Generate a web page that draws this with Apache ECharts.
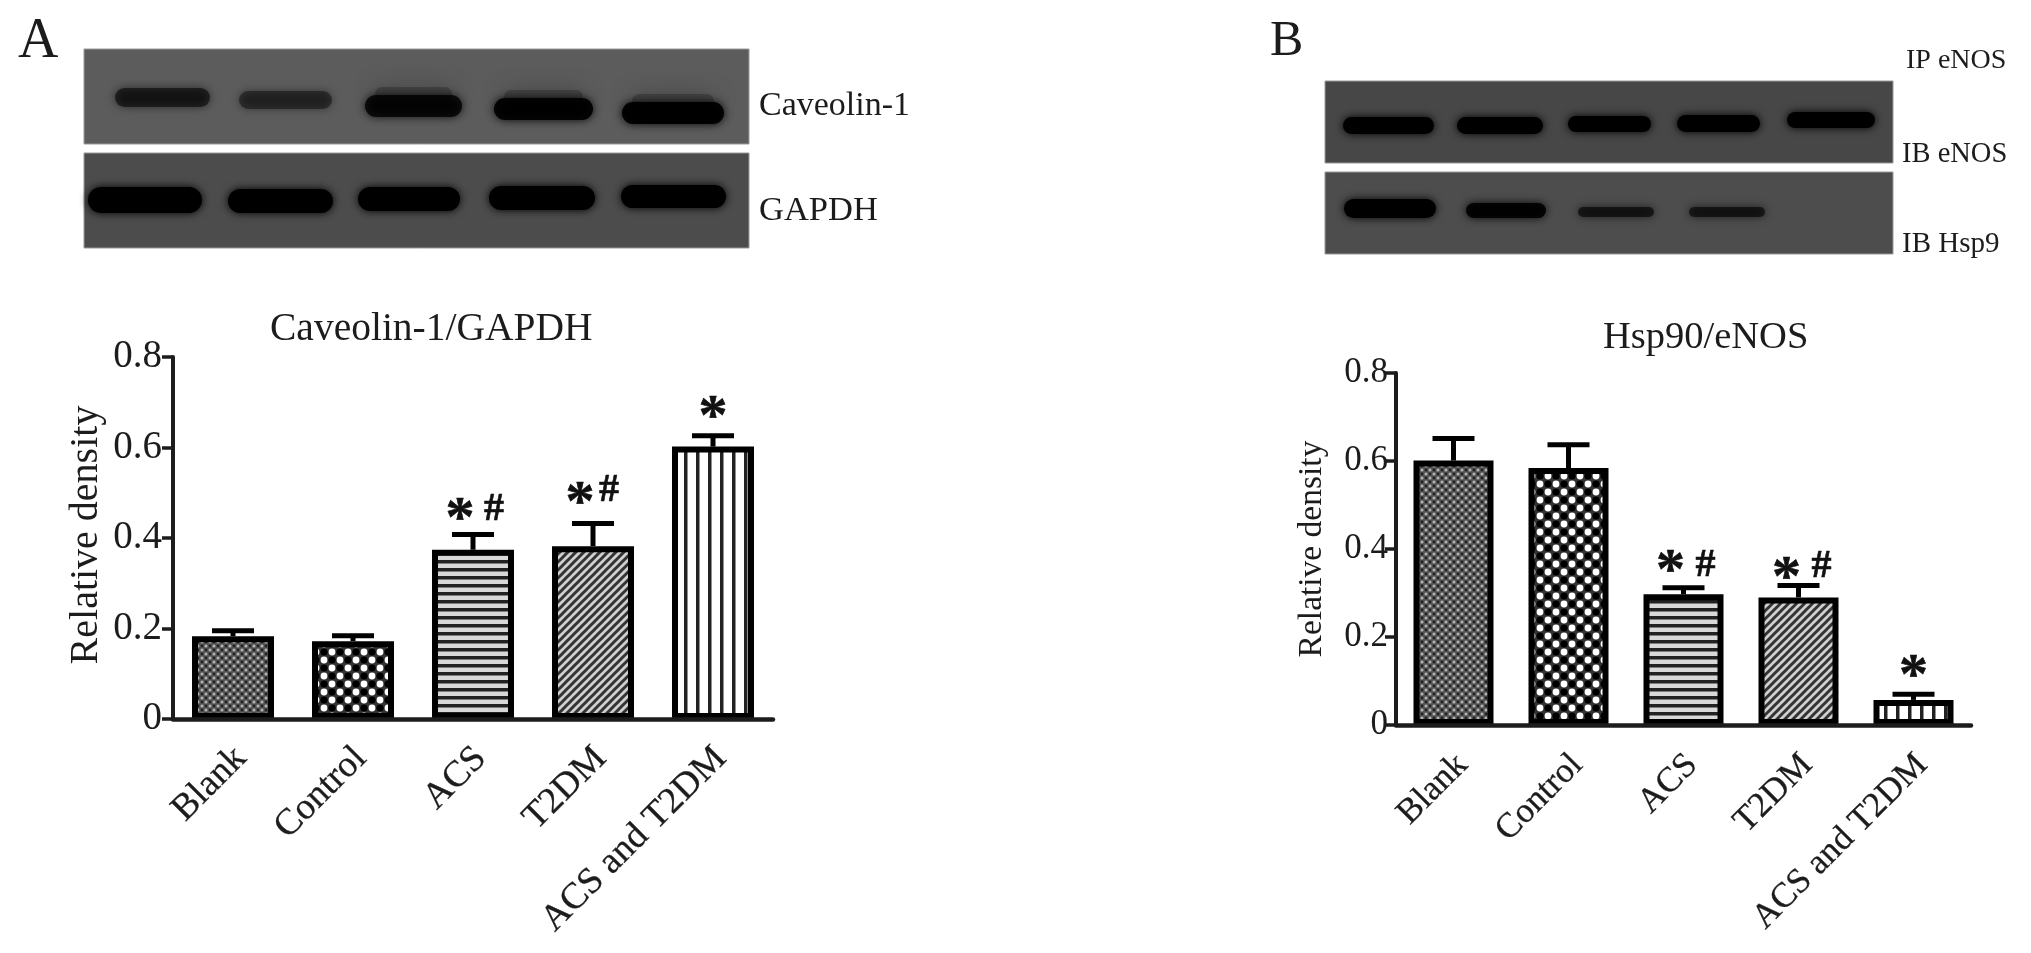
<!DOCTYPE html>
<html><head><meta charset="utf-8">
<style>html,body{margin:0;padding:0;background:#fff}#c{width:2031px;height:953px;filter:blur(0.7px)}</style>
<script src="https://cdn.jsdelivr.net/npm/echarts@6/dist/echarts.min.js"></script>
</head><body><div id="c"></div>
<script>
const categories = ['Blank','Control','ACS','T2DM','ACS and T2DM'];
const yTicks = [0,0.2,0.4,0.6,0.8];

const caveolinMean  = [0.183,0.172,0.374,0.382,0.602];
const caveolinUpper = [0.195,0.184,0.408,0.432,0.626];
const caveolinStar  = ['','','*','*','*'];
const caveolinHash  = ['','','#','#',''];

const hspMean  = [0.601,0.584,0.297,0.290,0.057];
const hspUpper = [0.651,0.637,0.312,0.317,0.070];
const hspStar  = ['','','*','*','*'];
const hspHash  = ['','','#','#',''];

const titleA = 'Caveolin-1/GAPDH';
const titleB = 'Hsp90/eNOS';
const yName = 'Relative density';

// relative darkness of the blot bands
const caveolinBand = [0.55,0.42,0.8,0.9,0.95];
const gapdhBand    = [1,1,1,1,1];
const enosBand     = [1,1,1,1,1];
const hspBand      = [1,0.9,0.6,0.6,0];

const FONT = '"Liberation Serif","Times New Roman",serif';
const INK = '#1c1c1c';

function tile(w,h,draw){const c=document.createElement('canvas');c.width=w;c.height=h;draw(c.getContext('2d'));return {image:c,repeat:'repeat'};}
function dot(g,x,y,r,col){g.fillStyle=col;g.beginPath();g.arc(x,y,r,0,Math.PI*2);g.fill();}
const patterns = [
  tile(8,8,g=>{g.fillStyle='#555';g.fillRect(0,0,8,8);dot(g,2,2,1.5,'#b4b4b4');dot(g,6,6,1.5,'#b4b4b4');dot(g,6,2,1.4,'#222');dot(g,2,6,1.4,'#222');}),
  tile(16,16,g=>{g.fillStyle='#333';g.fillRect(0,0,16,16);dot(g,4,4,3.4,'#fff');dot(g,12,12,3.4,'#fff');dot(g,12,4,3.6,'#000');dot(g,4,12,3.6,'#000');}),
  tile(8,8,g=>{g.fillStyle='#d8d8d8';g.fillRect(0,0,8,8);g.fillStyle='#222';g.fillRect(0,0,8,3.5);}),
  tile(8,8,g=>{g.fillStyle='#d0d0d0';g.fillRect(0,0,8,8);g.strokeStyle='#333';g.lineWidth=3;[[-2,2,2,-2],[0,8,8,0],[6,10,10,6]].forEach(l=>{g.beginPath();g.moveTo(l[0],l[1]);g.lineTo(l[2],l[3]);g.stroke();});}),
  tile(12,12,g=>{g.fillStyle='#fff';g.fillRect(0,0,12,12);g.fillStyle='#222';g.fillRect(0,0,3.5,12);})
];

function grid(left,top,width,height){return {left,top,width,height,containLabel:false};}
function xAxis(i,fs,margin,lh){return {type:'category',gridIndex:i,data:categories,
  axisLine:{lineStyle:{color:INK,width:4.5}},axisTick:{alignWithLabel:true,length:12,lineStyle:{color:INK,width:3.5}},
  axisLabel:{interval:0,rotate:45,fontFamily:FONT,fontSize:fs,color:INK,margin,verticalAlign:'top',lineHeight:lh,textBorderColor:INK,textBorderWidth:0.3},z:5};}
function yAxis(i,fs,nfs,gap,m,pad){return {type:'value',gridIndex:i,min:0,max:0.8,interval:0.2,name:yName,nameLocation:'middle',nameGap:gap,
  nameTextStyle:{fontFamily:FONT,fontSize:nfs,color:INK,padding:[0,0,0,pad]},splitLine:{show:false},
  axisLine:{show:true,lineStyle:{color:INK,width:4}},axisTick:{show:true,length:11,lineStyle:{color:INK,width:3.5}},
  axisLabel:{fontFamily:FONT,fontSize:fs,color:INK,margin:m,formatter:v=>yTicks.includes(v)?String(v):''},z:5};}
function bars(i,vals,w){return {type:'bar',xAxisIndex:i,yAxisIndex:i,barWidth:w,z:2,
  data:vals.map((v,k)=>({value:v,itemStyle:{color:patterns[k],borderColor:'#000',borderWidth:6}}))};}
function errs(i,upper){return {type:'custom',xAxisIndex:i,yAxisIndex:i,z:3,silent:true,encode:{x:0,y:[1,2]},
  data:upper.map((u,k)=>[k,(i==0?caveolinMean:hspMean)[k],u]),
  renderItem(p,api){const a=api.coord([api.value(0),api.value(1)]),b=api.coord([api.value(0),api.value(2)]);
    const s={stroke:'#000',lineWidth:5,fill:null};
    return {type:'group',children:[
      {type:'line',shape:{x1:a[0],y1:a[1],x2:b[0],y2:b[1]},style:s},
      {type:'line',shape:{x1:b[0]-21,y1:b[1],x2:b[0]+21,y2:b[1]},style:s}]};}};}
function marks(i,upper,glyphs,fs,offs){return {type:'custom',xAxisIndex:i,yAxisIndex:i,z:4,silent:true,encode:{x:0,y:1},
  data:upper.map((u,k)=>[k,u]),
  renderItem(p,api){const g=glyphs[p.dataIndex];if(!g)return null;const o=offs[p.dataIndex];const c=api.coord([api.value(0),api.value(1)]);
    return {type:'text',style:{text:g,x:c[0]+o[0],y:c[1]+o[1],align:'center',verticalAlign:'middle',fontFamily:FONT,fontWeight:'bold',fontSize:fs,fill:'#111',stroke:'#111',lineWidth:0.6}};}};}

const blotLayout = [
 {panel:[84,49,665,95],fill:'#5c5c5c',smear:[0,0,1,1,1],bands:[[115,88,95,19],[239,91,93,18],[365,95,97,22],[494,98,99,22],[622,102,102,22]],dark:caveolinBand},
 {panel:[84,153,665,95],fill:'#4c4c4c',smear:[0,0,0,0,0],bands:[[88,187,114,26],[228,189,105,24],[358,187,102,24],[489,186,106,24],[621,185,105,23]],dark:gapdhBand},
 {panel:[1325,81,568,82],fill:'#474747',smear:[0,0,0,0,0],bands:[[1343,117,91,17],[1457,117,86,17],[1568,116,83,16],[1677,115,83,17],[1787,112,88,16]],dark:enosBand},
 {panel:[1325,172,568,82],fill:'#4d4d4d',smear:[0,0,0,0,0],bands:[[1344,199,92,19],[1466,203,80,15],[1578,207,76,10],[1689,207,76,10],[1790,230,80,10]],dark:hspBand}
];
const texts = [
 ['A',18,42,56],['B',1270,42,50],
 ['Caveolin-1',759,106,34],['GAPDH',759,211,34.5],
 ['IP eNOS',1906,61,28],['IB eNOS',1902,155,28.5],['IB Hsp9',1902,244,29],
 [titleA,270,330,39.5],[titleB,1603,338,38.5]
];
const graphics = [];
blotLayout.forEach(b=>{
  graphics.push({type:'rect',shape:{x:b.panel[0],y:b.panel[1],width:b.panel[2],height:b.panel[3]},
    style:{fill:b.fill,stroke:'#999',lineWidth:1},z:1});
  b.bands.forEach((r,i)=>{ if(b.dark[i]<=0) return;
    if(b.smear[i]) graphics.push({type:'rect',shape:{x:r[0]+10,y:r[1]-8,width:r[2]-20,height:14,r:7},
      style:{fill:'#333',opacity:0.55,shadowBlur:20,shadowColor:'#333'},z:2});
    graphics.push({type:'rect',shape:{x:r[0],y:r[1],width:r[2],height:r[3],r:Math.min(r[3],r[2])/2},
      style:{fill:'#000',opacity:b.dark[i],shadowBlur:9,shadowColor:'#000'},z:2});});
});
texts.forEach(t=>graphics.push({type:'text',x:t[1],y:t[2],z:3,
  style:{text:t[0],fontFamily:FONT,fontSize:t[3],fill:INK,align:'left',verticalAlign:'middle'}}));

const chart = echarts.init(document.getElementById('c'),null,{renderer:'canvas'});
chart.setOption({
  animation:false,backgroundColor:'#fff',
  grid:[grid(173,357,600,362),grid(1396,373,575,352)],
  xAxis:[xAxis(0,37,26,22),xAxis(1,35,26,25)],
  yAxis:[yAxis(0,39,40,67,11,6),yAxis(1,35,33.5,67,8,0)],
  graphic:graphics,
  series:[
    bars(0,caveolinMean,82),errs(0,caveolinUpper),
    marks(0,caveolinUpper,caveolinStar,58,[0,0,[-13,-13],[-13,-19],[0,-17]]),
    marks(0,caveolinUpper,caveolinHash,40,[0,0,[21,-25],[16,-33],0]),
    bars(1,hspMean,80),errs(1,hspUpper),
    marks(1,hspUpper,hspStar,58,[0,0,[-13,-15],[-12,-6],[0,-16]]),
    marks(1,hspUpper,hspHash,40,[0,0,[22,-22],[23,-19],0])
  ]
});
</script></body></html>
